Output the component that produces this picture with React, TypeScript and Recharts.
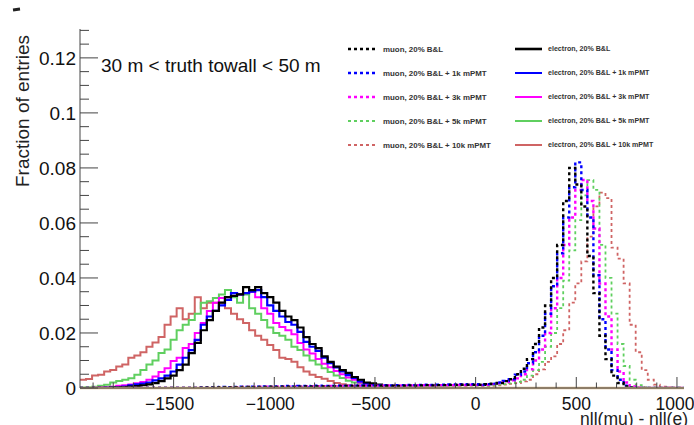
import React from 'react';
import { ComposedChart, Line, XAxis, YAxis, ReferenceLine, Legend } from 'recharts';

const FONT = '"Liberation Sans", Arial, Helvetica, sans-serif';

// ---- binning (histogram categories) ----
const X_MIN = -1965;
const X_MAX = 1035;
const BIN = 30;
const NBINS = 100;
const binEdges: number[] = Array.from({ length: NBINS + 1 }, (_, i) => X_MIN + BIN * i);
const Y_MAX = 0.1305;

// ---- tick labels ----
const xMinorTicks = [-1900, -1800, -1700, -1600, -1500, -1400, -1300, -1200, -1100, -1000, -900, -800, -700, -600, -500, -400, -300, -200, -100, 0, 100, 200, 300, 400, 500, 600, 700, 800, 900, 1000];
const yMinorTicks = [0, 0.005, 0.01, 0.015, 0.02, 0.025, 0.03, 0.035, 0.04, 0.045, 0.05, 0.055, 0.06, 0.065, 0.07, 0.075, 0.08, 0.085, 0.09, 0.095, 0.1, 0.105, 0.11, 0.115, 0.12, 0.125, 0.13];

// ---- electron series (bins starting at bin 0) ----
const E_START = 0;
const eBL = [0, 0, 0, 0.0001, 0.0001, 0.0002, 0.0002, 0.0003, 0.0005, 0.0007, 0.001, 0.0013, 0.0018, 0.0025, 0.0035, 0.0045, 0.0065, 0.0085, 0.0127, 0.0164, 0.021, 0.0247, 0.028, 0.031, 0.033, 0.0335, 0.034, 0.0367, 0.0356, 0.0367, 0.0345, 0.033, 0.031, 0.028, 0.026, 0.0247, 0.022, 0.0185, 0.016, 0.0145, 0.0115, 0.0095, 0.0078, 0.0065, 0.0055, 0.004, 0.003, 0.002, 0.0017, 0.0012, 0.0008, 0.0005, 0.0003];
const eBL1k = [0, 0, 0, 0, 0.0001, 0.0002, 0.0003, 0.0005, 0.001, 0.0013, 0.0016, 0.002, 0.0028, 0.0035, 0.0045, 0.006, 0.0085, 0.011, 0.0138, 0.0175, 0.023, 0.026, 0.028, 0.03, 0.032, 0.0345, 0.034, 0.0345, 0.035, 0.0356, 0.033, 0.03, 0.028, 0.026, 0.024, 0.023, 0.0204, 0.0168, 0.015, 0.0135, 0.011, 0.009, 0.0075, 0.006, 0.0047, 0.0037, 0.0024, 0.0018, 0.0013, 0.0009, 0.0006, 0.0004, 0.0002];
const eBL3k = [0, 0, 0.0001, 0.0002, 0.0003, 0.0005, 0.0008, 0.001, 0.0013, 0.0017, 0.0022, 0.003, 0.0042, 0.0058, 0.0072, 0.0098, 0.011, 0.0145, 0.016, 0.02, 0.0236, 0.028, 0.031, 0.0327, 0.033, 0.0345, 0.034, 0.0345, 0.035, 0.033, 0.029, 0.027, 0.0236, 0.0222, 0.021, 0.0195, 0.0164, 0.014, 0.0125, 0.0105, 0.0088, 0.0075, 0.0062, 0.005, 0.0038, 0.003, 0.002, 0.0015, 0.001, 0.0007, 0.0004, 0.0002, 0.0001];
const eBL5k = [0.0002, 0.0003, 0.0005, 0.0008, 0.0012, 0.002, 0.0025, 0.003, 0.0035, 0.0048, 0.0065, 0.0085, 0.01, 0.0127, 0.014, 0.0175, 0.021, 0.023, 0.0247, 0.027, 0.031, 0.0315, 0.0327, 0.034, 0.0356, 0.033, 0.031, 0.034, 0.029, 0.027, 0.0247, 0.022, 0.02, 0.019, 0.0175, 0.015, 0.0138, 0.0118, 0.01, 0.0085, 0.0072, 0.0058, 0.0045, 0.0036, 0.0026, 0.002, 0.0016, 0.0012, 0.0008, 0.0005, 0.0003, 0.0002, 0.0001];
const eBL10k = [0.003, 0.0033, 0.0045, 0.0048, 0.006, 0.0065, 0.0078, 0.0085, 0.011, 0.0118, 0.013, 0.015, 0.0165, 0.0185, 0.023, 0.026, 0.029, 0.025, 0.027, 0.033, 0.029, 0.031, 0.031, 0.031, 0.029, 0.027, 0.025, 0.0236, 0.021, 0.019, 0.0175, 0.0156, 0.0138, 0.011, 0.0105, 0.0095, 0.0075, 0.006, 0.0048, 0.004, 0.0034, 0.0025, 0.0018, 0.0014, 0.001, 0.0008, 0.0005, 0.0004, 0.0003, 0.0002, 0.0001, 0.0001, 0];

// ---- muon series (bins starting at bin 20) ----
const MU_START = 20;
const muBL = [0.0001, 0.0002, 0.0002, 0.0003, 0.0002, 0.0003, 0.0003, 0.0004, 0.0003, 0.0004, 0.0004, 0.0005, 0.0004, 0.0005, 0.0005, 0.0004, 0.0005, 0.0006, 0.0005, 0.0006,
  0.0006, 0.0005, 0.0006, 0.0006, 0.0007, 0.0006, 0.0007, 0.0007, 0.0008, 0.0007, 0.0008, 0.0008, 0.0007, 0.0008, 0.0009, 0.0008, 0.0009, 0.001, 0.0009, 0.001,
  0.001, 0.0011, 0.0011, 0.0012, 0.0012, 0.0012, 0.0012, 0.0014, 0.0016, 0.0018, 0.0025, 0.0032, 0.005, 0.007, 0.0105, 0.016, 0.022, 0.03, 0.04, 0.052, 0.068, 0.08, 0.074, 0.066, 0.048, 0.0345, 0.019, 0.0105, 0.0045, 0.0018, 0.0006, 0.0002, 0, 0, 0, 0, 0, 0, 0, 0];
const muBL1k = [0.0002, 0.0003, 0.0002, 0.0004, 0.0003, 0.0004, 0.0005, 0.0004, 0.0005, 0.0005, 0.0006, 0.0005, 0.0006, 0.0006, 0.0007, 0.0006, 0.0007, 0.0007, 0.0006, 0.0008,
  0.0007, 0.0007, 0.0008, 0.0007, 0.0008, 0.0008, 0.0009, 0.0008, 0.0009, 0.0009, 0.001, 0.0009, 0.001, 0.001, 0.0011, 0.001, 0.0011, 0.0012, 0.0011, 0.0012,
  0.0012, 0.0013, 0.0013, 0.0014, 0.0013, 0.0014, 0.0012, 0.0014, 0.0016, 0.002, 0.0026, 0.0032, 0.0048, 0.006, 0.009, 0.013, 0.019, 0.027, 0.037, 0.049, 0.062, 0.073, 0.082, 0.072, 0.062, 0.041, 0.025, 0.014, 0.0065, 0.003, 0.0008, 0.0003, 0, 0, 0, 0, 0, 0, 0, 0];
const muBL3k = [0.0001, 0.0002, 0.0002, 0.0002, 0.0003, 0.0003, 0.0003, 0.0004, 0.0004, 0.0004, 0.0005, 0.0004, 0.0005, 0.0005, 0.0005, 0.0006, 0.0005, 0.0006, 0.0006, 0.0006,
  0.0006, 0.0007, 0.0006, 0.0007, 0.0007, 0.0007, 0.0008, 0.0007, 0.0008, 0.0008, 0.0008, 0.0009, 0.0008, 0.0009, 0.0009, 0.0009, 0.001, 0.0009, 0.001, 0.001,
  0.001, 0.001, 0.0011, 0.0011, 0.0012, 0.0011, 0.001, 0.0012, 0.0014, 0.0017, 0.0022, 0.0028, 0.0035, 0.005, 0.0068, 0.01, 0.014, 0.02, 0.029, 0.04, 0.052, 0.062, 0.072, 0.0756, 0.068, 0.058, 0.038, 0.026, 0.014, 0.006, 0.002, 0.0006, 0.0002, 0, 0, 0, 0, 0, 0, 0];
const muBL5k = [0.0001, 0.0001, 0.0002, 0.0002, 0.0002, 0.0003, 0.0002, 0.0003, 0.0003, 0.0003, 0.0004, 0.0003, 0.0004, 0.0004, 0.0004, 0.0004, 0.0005, 0.0004, 0.0005, 0.0005,
  0.0005, 0.0005, 0.0006, 0.0005, 0.0006, 0.0006, 0.0006, 0.0007, 0.0006, 0.0007, 0.0007, 0.0007, 0.0007, 0.0008, 0.0007, 0.0008, 0.0008, 0.0008, 0.0009, 0.0008,
  0.0009, 0.0009, 0.0009, 0.001, 0.001, 0.001, 0.0008, 0.0009, 0.001, 0.0012, 0.0014, 0.0017, 0.0022, 0.003, 0.0045, 0.0065, 0.0095, 0.015, 0.02, 0.029, 0.039, 0.05, 0.061, 0.07, 0.0756, 0.072, 0.052, 0.04, 0.027, 0.016, 0.008, 0.003, 0.001, 0.0003, 0, 0, 0, 0, 0, 0];
const muBL10k = [0.0001, 0.0001, 0.0001, 0.0002, 0.0002, 0.0002, 0.0002, 0.0003, 0.0002, 0.0003, 0.0003, 0.0003, 0.0003, 0.0004, 0.0003, 0.0004, 0.0004, 0.0004, 0.0004, 0.0005,
  0.0004, 0.0005, 0.0005, 0.0005, 0.0005, 0.0006, 0.0005, 0.0006, 0.0006, 0.0006, 0.0006, 0.0006, 0.0007, 0.0006, 0.0007, 0.0007, 0.0007, 0.0007, 0.0008, 0.0007,
  0.0008, 0.0008, 0.0008, 0.0008, 0.0009, 0.0009, 0.0006, 0.0007, 0.0008, 0.001, 0.0012, 0.0015, 0.0018, 0.0024, 0.003, 0.005, 0.0068, 0.0095, 0.0115, 0.016, 0.021, 0.031, 0.038, 0.046, 0.055, 0.066, 0.071, 0.069, 0.051, 0.047, 0.038, 0.023, 0.013, 0.0065, 0.003, 0.0012, 0.0005, 0.0002, 0, 0];

// ---- legend labels ----
const muLabels = ['muon, 20% B&L', 'muon, 20% B&L + 1k mPMT', 'muon, 20% B&L + 3k mPMT', 'muon, 20% B&L + 5k mPMT', 'muon, 20% B&L + 10k mPMT'];
const eLabels = ['electron, 20% B&L', 'electron, 20% B&L + 1k mPMT', 'electron, 20% B&L + 3k mPMT', 'electron, 20% B&L + 5k mPMT', 'electron, 20% B&L + 10k mPMT'];

const COLORS = ['#000000', '#0000ff', '#ff00ff', '#5fcf5f', '#cf6464'];
const MU_WIDTH = [2.4, 2.4, 2.4, 1.8, 1.8];
const E_WIDTH = [2.2, 2.2, 2, 2, 2];

const eSeries = [eBL, eBL1k, eBL3k, eBL5k, eBL10k];
const muSeries = [muBL, muBL1k, muBL3k, muBL5k, muBL10k];
const eKeys = ['e0', 'e1', 'e2', 'e3', 'e4'];
const muKeys = ['m0', 'm1', 'm2', 'm3', 'm4'];

const pick = (arr: number[], start: number, k: number) => {
  const v = arr[k - start];
  return v === undefined ? 0 : v;
};

const rows = binEdges.map((x, i) => {
  const k = Math.min(i, NBINS - 1);
  const r: Record<string, number> = { x };
  eSeries.forEach((s, j) => { r[eKeys[j]] = pick(s, E_START, k); });
  muSeries.forEach((s, j) => { r[muKeys[j]] = pick(s, MU_START, k); });
  return r;
});

const fmtX = (v: number) => (v < 0 ? '\u2212' + Math.abs(v) : String(v));
const isMajorX = (v: number) => Math.abs(v % 500) < 1e-6;
const isMajorY = (v: number) => Math.round(v * 1000) % 20 === 0;
const AXIS = '#444';

const BottomTick = (p: any) => {
  const { x, y, payload } = p;
  const v = payload.value;
  const major = isMajorX(v);
  return (
    <g>
      <line x1={x} x2={x} y1={y} y2={y - (major ? 11 : 5.5)} stroke={AXIS} strokeWidth={1} />
      {major && (
        <text x={x} y={y + 22} dx={v < 0 ? -4 : v >= 1000 ? -2 : 0} textAnchor="middle" fontSize={17.5} fontFamily={FONT} fill="#111">{fmtX(v)}</text>
      )}
    </g>
  );
};
const TopTick = (p: any) => {
  const { x, y, payload } = p;
  const major = isMajorX(payload.value);
  return <line x1={x} x2={x} y1={y} y2={y + (major ? 11 : 5.5)} stroke={AXIS} strokeWidth={1} />;
};
const LeftTick = (p: any) => {
  const { x, y, payload } = p;
  const v = payload.value;
  const major = isMajorY(v);
  return (
    <g>
      <line x1={x} x2={x + (major ? 18 : 9)} y1={y} y2={y} stroke={AXIS} strokeWidth={1} />
      {major && (
        <text x={x - 4} y={y} dy="0.35em" textAnchor="end" fontSize={19} fontFamily={FONT} fill="#111">{String(v)}</text>
      )}
    </g>
  );
};
const RightTick = (p: any) => {
  const { x, y, payload } = p;
  const major = isMajorY(payload.value);
  return <line x1={x} x2={x - (major ? 18 : 9)} y1={y} y2={y} stroke={AXIS} strokeWidth={1} />;
};

const LegendBox = () => {
  const rowsY = [19, 43, 67, 91, 115];
  return (
    <svg width={350} height={130} style={{ display: 'block' }}>
      {muLabels.map((lab, i) => (
        <g key={'m' + i}>
          <line x1={8} x2={35} y1={rowsY[i]} y2={rowsY[i]} stroke={COLORS[i]} strokeWidth={MU_WIDTH[i]} strokeDasharray="3 3" />
          <text x={43} y={rowsY[i]} dy="0.35em" fontSize={7.9} fontWeight="bold" fontFamily={FONT} fill="#333">{lab}</text>
        </g>
      ))}
      {eLabels.map((lab, i) => (
        <g key={'e' + i}>
          <line x1={175} x2={202} y1={rowsY[i]} y2={rowsY[i]} stroke={COLORS[i]} strokeWidth={i === 0 ? 2.6 : 2} />
          <text x={208} y={rowsY[i]} dy="0.35em" fontSize={7.1} fontWeight="bold" fontFamily={FONT} fill="#333">{lab}</text>
        </g>
      ))}
    </svg>
  );
};

export default function App() {
  const drawOrder = [4, 3, 2, 1, 0];
  return (
    <div style={{ position: 'absolute', left: 0, top: 0, width: 694, height: 425, background: '#fff', overflow: 'hidden' }}>
      <ComposedChart width={694} height={425} data={rows} margin={{ top: 29, right: 10, bottom: 0, left: 0 }}>
        <XAxis xAxisId="b" dataKey="x" type="number" domain={[X_MIN, X_MAX]} allowDataOverflow ticks={xMinorTicks} interval={0}
          tickSize={0} tickMargin={0} tickLine={false} height={37} axisLine={{ stroke: AXIS, strokeWidth: 1 }} tick={(p: any) => <BottomTick {...p} />} />
        <XAxis xAxisId="t" orientation="top" dataKey="x" type="number" domain={[X_MIN, X_MAX]} allowDataOverflow ticks={xMinorTicks} interval={0}
          tickSize={0} tickMargin={0} tickLine={false} height={0} axisLine={{ stroke: AXIS, strokeWidth: 1 }} tick={(p: any) => <TopTick {...p} />} />
        <YAxis yAxisId="l" type="number" domain={[0, Y_MAX]} allowDataOverflow ticks={yMinorTicks} interval={0}
          tickSize={0} tickMargin={0} tickLine={false} width={80} axisLine={{ stroke: AXIS, strokeWidth: 1 }} tick={(p: any) => <LeftTick {...p} />} />
        <YAxis yAxisId="r" orientation="right" type="number" domain={[0, Y_MAX]} allowDataOverflow ticks={yMinorTicks} interval={0}
          tickSize={0} tickMargin={0} tickLine={false} width={0} axisLine={{ stroke: AXIS, strokeWidth: 1 }} tick={(p: any) => <RightTick {...p} />} />
        {drawOrder.map((j) => (
          <Line key={eKeys[j]} xAxisId="b" yAxisId="l" dataKey={eKeys[j]} type="stepAfter" stroke={COLORS[j]} strokeWidth={E_WIDTH[j]}
            dot={false} activeDot={false} isAnimationActive={false} name={eLabels[j]} />
        ))}
        {drawOrder.map((j) => (
          <Line key={muKeys[j]} xAxisId="b" yAxisId="l" dataKey={muKeys[j]} type="stepAfter" stroke={COLORS[j]} strokeWidth={MU_WIDTH[j]}
            strokeDasharray="3 3" dot={false} activeDot={false} isAnimationActive={false} name={muLabels[j]} />
        ))}
        <ReferenceLine xAxisId="b" yAxisId="l" y={0} stroke="#d6b68a" strokeWidth={2.5} />
        <Legend layout="vertical" align="center" verticalAlign="middle" width={350} height={130}
          wrapperStyle={{ position: 'absolute', left: 340, top: 30, width: 350, height: 130 }} content={() => <LegendBox />} />
      </ComposedChart>
      <svg width={694} height={425} style={{ position: 'absolute', left: 0, top: 0, pointerEvents: 'none' }}>
        <line x1={13} y1={10} x2={20} y2={9} stroke="#222" strokeWidth={3} />
        <text transform="translate(22,111) rotate(-90)" textAnchor="middle" dy="0.35em" fontSize={19} fontFamily={FONT} fill="#222">Fraction of entries</text>
        <text x={688} y={425} textAnchor="end" fontSize={17.5} fontFamily={FONT} fill="#222">nll(mu) - nll(e)</text>
        <text x={101} y={72} fontSize={19} fontFamily={FONT} fill="#111">30 m &lt; truth towall &lt; 50 m</text>
      </svg>
    </div>
  );
}
